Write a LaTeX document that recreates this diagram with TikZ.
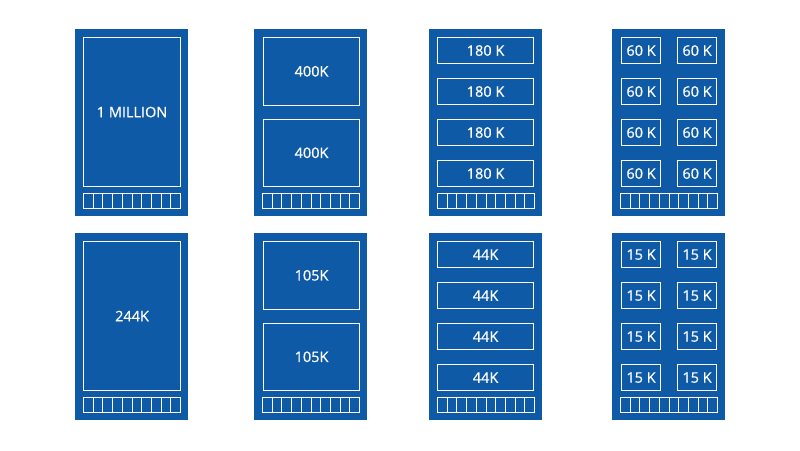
\documentclass[tikz,border=0pt]{standalone}
\usepackage{fontspec}
\setmainfont{Open Sans}
\newfontfamily\tilefont{Open Sans}[FakeBold=0.7]
\definecolor{tileblue}{RGB}{14,90,167}
\tikzset{
  tile/.style={fill=tileblue, inner sep=0pt, minimum width=113pt, minimum height=187pt, anchor=north west},
  slot/.style={draw=white, line width=1.1pt, fill=tileblue, text=white, inner sep=0pt, anchor=north west, font=\tilefont\fontsize{14.5}{14.5}\selectfont},
  cell/.style={draw=white, line width=0.9pt, inner sep=0pt, minimum width=9.7pt, minimum height=15pt, anchor=north west}
}

\begin{document}
\begin{tikzpicture}[x=1pt,y=-1pt]
    \useasboundingbox (0,0) rectangle (800,450);
    \foreach \r/\y in {a/29,b/233} % edit here for the two rows
    \foreach \c/\x in {1/75,2/254,3/429,4/612} {
        \node[tile] (tile\c\r) at (\x,\y) {};
        \foreach \k in {0,...,9} % ten cells along the bottom
        \node[cell] (cell\c\r\k) at ([xshift=8pt+\k*9.7pt, yshift=-164pt]tile\c\r.north west) {};
    }
    % top row
    \node[slot, minimum width=97pt, minimum height=149pt] (whole1) at (83,37) {1 MILLION};
    \foreach \i/\y in {1/37,2/118.5}
    \node[slot, minimum width=96pt, minimum height=67.5pt] (halfa\i) at (263,\y) {400K};
    \foreach \i/\y in {1/37,2/78,3/119,4/160}
    \node[slot, minimum width=96pt, minimum height=26pt] (quarta\i) at (437,\y) {180 K};
    \foreach \i/\y in {1/37,2/78,3/119,4/160}
    \foreach \j/\x in {1/621,2/677}
    \node[slot, minimum width=39pt, minimum height=26pt] (eightha\i\j) at (\x,\y) {60 K};
    % bottom row
    \node[slot, minimum width=97pt, minimum height=149pt] (whole2) at (83,241) {244K};
    \foreach \i/\y in {1/241,2/322.5}
    \node[slot, minimum width=96pt, minimum height=67.5pt] (halfb\i) at (263,\y) {105K};
    \foreach \i/\y in {1/241,2/282,3/323,4/364}
    \node[slot, minimum width=96pt, minimum height=26pt] (quartb\i) at (437,\y) {44K};
    \foreach \i/\y in {1/241,2/282,3/323,4/364}
    \foreach \j/\x in {1/621,2/677}
    \node[slot, minimum width=39pt, minimum height=26pt] (eighthb\i\j) at (\x,\y) {15 K};
\end{tikzpicture}
\end{document}
